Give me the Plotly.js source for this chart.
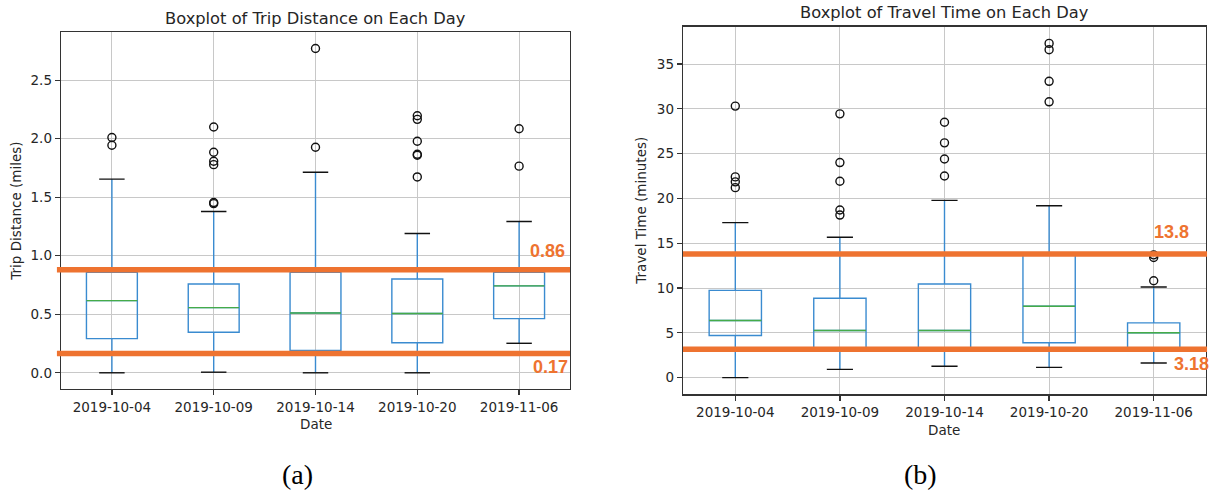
<!DOCTYPE html>
<html>
<head>
<meta charset="utf-8">
<script src="https://cdn.plot.ly/plotly-3.0.1.min.js"></script>
<style>
  html, body { margin: 0; padding: 0; background: #ffffff; }
  #chart { width: 1212px; height: 493px; }
</style>
</head>
<body>
<div id="chart"></div>
<script>
// ---------- data ----------
const dates = ['2019-10-04', '2019-10-09', '2019-10-14', '2019-10-20', '2019-11-06'];

// (a) Trip distance (miles)
const distLow  = [0.0,   0.005, 0.0,   0.0,   0.252];
const distQ1   = [0.292, 0.346, 0.19,  0.256, 0.463];
const distMed  = [0.616, 0.557, 0.511, 0.506, 0.742];
const distQ3   = [0.858, 0.759, 0.858, 0.801, 0.858];
const distHigh = [1.654, 1.378, 1.713, 1.19,  1.292];
const distOutliers = [
  [2.01, 1.944],
  [2.10, 1.884, 1.807, 1.778, 1.454, 1.445],
  [2.77, 1.927],
  [2.196, 2.165, 1.978, 1.867, 1.858, 1.673],
  [2.085, 1.765]
];
const distLines = [0.88, 0.165];
const distLineLabels = ['0.86', '0.17'];
const distTicks = [0.0, 0.5, 1.0, 1.5, 2.0, 2.5];

// (b) Travel time (minutes)
const timeLow  = [0.0,  0.92,  1.26,  1.14,  1.63];
const timeQ1   = [4.7,  3.2,   3.2,   3.89,  3.2];
const timeMed  = [6.37, 5.26,  5.26,  7.96,  5.0];
const timeQ3   = [9.74, 8.85,  10.44, 13.7,  6.11];
const timeHigh = [17.3, 15.67, 19.78, 19.18, 10.11];
const timeOutliers = [
  [30.3, 22.4, 21.85, 21.2],
  [29.44, 24.0, 21.92, 18.7, 18.14],
  [28.5, 26.2, 24.4, 22.5],
  [37.3, 36.6, 33.07, 30.78],
  [13.7, 13.4, 10.81]
];
const timeLines = [13.8, 3.15];
const timeLineLabels = ['13.8', '3.18'];
const timeTicks = [0, 5, 10, 15, 20, 25, 30, 35];

// texts
const titles = ['Boxplot of Trip Distance on Each Day', 'Boxplot of Travel Time on Each Day'];
const yTitles = ['Trip Distance (miles)', 'Travel Time (minutes)'];
const xTitle = 'Date';
const captions = ['(a)', '(b)'];

// ---------- styles ----------
const W = 1212, H = 493;
const BLUE = '#3a8bd0', GREEN = '#45ab48', ORANGE = '#EE7330', DARK = '#262626';
const FONT = 'DejaVu Sans, Verdana, sans-serif';
const pos = dates.map((d, i) => i + 1);
const BOXW = 0.5, CAPW = 0.25;

function segs(values, half) {
  const xs = [], ys = [];
  values.forEach((v, i) => { xs.push(pos[i] - half, pos[i] + half, null); ys.push(v, v, null); });
  return { xs, ys };
}

function panelTraces(low, q1, med, q3, high, outl, xa, ya) {
  const traces = [];
  traces.push({
    type: 'box', x: pos, q1: q1, median: med, q3: q3, lowerfence: low, upperfence: high,
    width: BOXW, whiskerwidth: 0, boxpoints: false,
    line: { color: BLUE, width: 1.4 }, fillcolor: 'rgba(0,0,0,0)',
    xaxis: xa, yaxis: ya, showlegend: false, hoverinfo: 'skip'
  });
  const m = segs(med, BOXW / 2);
  traces.push({ type: 'scatter', mode: 'lines', x: m.xs, y: m.ys, line: { color: GREEN, width: 1.4 },
    xaxis: xa, yaxis: ya, showlegend: false, hoverinfo: 'skip' });
  const lo = segs(low, CAPW / 2), hi = segs(high, CAPW / 2);
  traces.push({ type: 'scatter', mode: 'lines', x: lo.xs.concat(hi.xs), y: lo.ys.concat(hi.ys),
    line: { color: '#111', width: 1.4 }, xaxis: xa, yaxis: ya, showlegend: false, hoverinfo: 'skip' });
  const ox = [], oy = [];
  outl.forEach((arr, i) => arr.forEach(v => { ox.push(pos[i]); oy.push(v); }));
  traces.push({ type: 'scatter', mode: 'markers', x: ox, y: oy,
    marker: { symbol: 'circle-open', size: 8, color: '#111', line: { width: 1.4, color: '#111' } },
    xaxis: xa, yaxis: ya, showlegend: false, hoverinfo: 'skip' });
  return traces;
}

const data = [].concat(
  panelTraces(distLow, distQ1, distMed, distQ3, distHigh, distOutliers, 'x', 'y'),
  panelTraces(timeLow, timeQ1, timeMed, timeQ3, timeHigh, timeOutliers, 'x2', 'y2')
);

function xAxis(domain, anchor) {
  return {
    domain: domain, anchor: anchor, range: [0.5, 5.5], tickmode: 'array', tickvals: pos, ticktext: dates,
    showgrid: true, gridcolor: '#c8c8c8', gridwidth: 1, zeroline: false,
    showline: true, mirror: true, linecolor: '#333', linewidth: 1.3,
    ticks: 'outside', ticklen: 5, tickwidth: 1.2, tickcolor: '#333',
    tickfont: { family: FONT, size: 13.5, color: DARK }, fixedrange: true
  };
}
function yAxis(domain, anchor, range, ticks, fmt) {
  return {
    domain: domain, anchor: anchor, range: range, tickmode: 'array', tickvals: ticks,
    ticktext: ticks.map(v => fmt ? v.toFixed(1) : String(v)),
    showgrid: true, gridcolor: '#c8c8c8', gridwidth: 1, zeroline: false,
    showline: true, mirror: true, linecolor: '#333', linewidth: 1.3,
    ticks: 'outside', ticklen: 5, tickwidth: 1.2, tickcolor: '#333',
    tickfont: { family: FONT, size: 13.5, color: DARK }, fixedrange: true
  };
}

const xd1 = [61 / W, 570 / W], yd1 = [1 - 389 / H, 1 - 32.3 / H];
const xd2 = [683 / W, 1206 / W], yd2 = [1 - 394.3 / H, 1 - 26.7 / H];

const shapes = [];
distLines.forEach(v => shapes.push({ type: 'line', xref: 'x domain', yref: 'y', x0: -0.008, x1: 1, y0: v, y1: v,
  line: { color: ORANGE, width: 5.5 }, layer: 'above' }));
timeLines.forEach(v => shapes.push({ type: 'line', xref: 'x2 domain', yref: 'y2', x0: 0, x1: 1.002, y0: v, y1: v,
  line: { color: ORANGE, width: 5.5 }, layer: 'above' }));

function ann(text, px, py, size, opts) {
  return Object.assign({ text: text, xref: 'paper', yref: 'paper', x: px / W, y: 1 - py / H,
    xanchor: 'center', yanchor: 'middle', showarrow: false,
    font: { family: FONT, size: size, color: DARK } }, opts || {});
}
const LBL = { family: 'Liberation Sans, Arial, sans-serif', size: 18, color: ORANGE, weight: 'bold' };
const SERIF = { family: 'Liberation Serif, Times New Roman, serif', size: 28, color: '#000' };
const annotations = [
  ann(titles[0], 315.5, 18.5, 16.3),
  ann(titles[1], 944.5, 12.5, 16.3),
  ann(yTitles[0], 15.7, 211, 13.5, { textangle: -90 }),
  ann(yTitles[1], 640.7, 211, 13.5, { textangle: -90 }),
  ann(xTitle, 315.5, 424, 13.5),
  ann(xTitle, 944.5, 430, 13.5),
  ann(captions[0], 297, 474, 28, { font: SERIF }),
  ann(captions[1], 920, 474, 28, { font: SERIF }),
  ann('<b>' + distLineLabels[0] + '</b>', 547, 251, 18, { font: LBL }),
  ann('<b>' + distLineLabels[1] + '</b>', 550, 367, 18, { font: LBL }),
  ann('<b>' + timeLineLabels[0] + '</b>', 1171, 232, 18, { font: LBL }),
  ann('<b>' + timeLineLabels[1] + '</b>', 1191, 364, 18, { font: LBL })
];

const layout = {
  width: W, height: H, margin: { l: 0, r: 0, t: 0, b: 0 },
  paper_bgcolor: '#ffffff', plot_bgcolor: '#ffffff', showlegend: false,
  xaxis: xAxis(xd1, 'y'), yaxis: yAxis(yd1, 'x', [-0.1385, 2.9085], distTicks, true),
  xaxis2: xAxis(xd2, 'y2'), yaxis2: yAxis(yd2, 'x2', [-1.865, 39.165], timeTicks, false),
  shapes: shapes, annotations: annotations
};

Plotly.newPlot('chart', data, layout, { staticPlot: true, displayModeBar: false });
</script>
</body>
</html>
